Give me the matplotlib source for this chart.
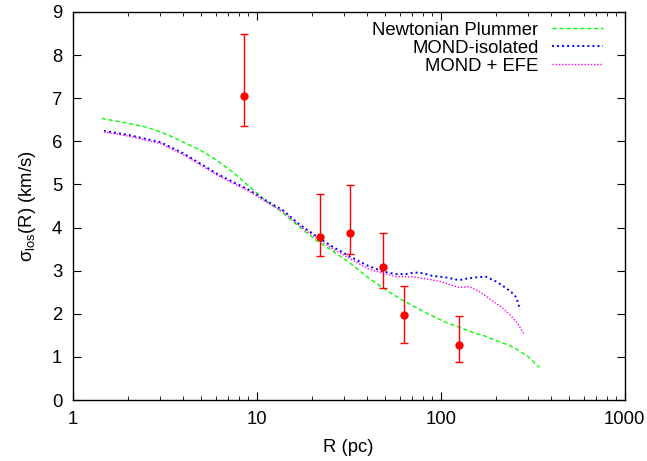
import numpy as np
import matplotlib
matplotlib.use("Agg")
import matplotlib.pyplot as plt
from matplotlib.ticker import LogLocator, NullFormatter, FixedLocator

# 数据点 (R, sigma, 误差)
obs_R = [8.5, 22.2, 32.1, 48.5, 63.0, 125.0]
obs_sig = [7.05, 3.78, 3.88, 3.09, 1.98, 1.28]
obs_lo = [6.35, 3.33, 3.39, 2.60, 1.32, 0.89]
obs_hi = [8.48, 4.78, 4.98, 3.88, 2.64, 1.96]

# Newtonian Plummer
newt_R = [1.44, 2.0, 2.5, 3.0, 3.54, 4.0, 5.0, 6.08, 7.5, 9.2, 11.0, 13.9, 17.0, 21.1, 26.0,
          32.1, 40.0, 48.5, 60.0, 76.9, 90.0, 107.0, 130.0, 149.0, 175.0, 200.0, 235.0,
          268.0, 300.0, 343.0]
newt_sig = [6.53, 6.42, 6.33, 6.22, 6.09, 5.98, 5.78, 5.56, 5.27, 4.94, 4.65, 4.34, 4.02, 3.70, 3.45,
            3.18, 2.85, 2.60, 2.35, 2.10, 1.95, 1.80, 1.67, 1.57, 1.48, 1.38, 1.27,
            1.14, 1.00, 0.76]

# MOND isolated
iso_R = [1.48, 2.0, 3.0, 4.0, 5.0, 6.08, 7.5, 9.2, 11.0, 13.9, 17.0, 21.1, 26.0, 32.1,
         40.0, 48.5, 57.0, 65.0, 72.0, 80.0, 90.0, 105.0, 126.0, 140.0, 160.0, 176.0,
         200.0, 226.0, 245.0, 258.0, 270.0]
iso_sig = [6.24, 6.15, 5.98, 5.72, 5.47, 5.25, 5.05, 4.86, 4.65, 4.40, 4.08, 3.80, 3.55, 3.33,
           3.12, 2.98, 2.92, 2.92, 2.96, 2.94, 2.88, 2.85, 2.78, 2.82, 2.85, 2.86,
           2.75, 2.60, 2.48, 2.38, 2.09]

# MOND + EFE
efe_R = [1.48, 2.0, 3.0, 4.0, 5.0, 6.08, 7.5, 9.2, 11.0, 13.9, 17.0, 21.1, 26.0, 32.1,
         40.0, 46.8, 57.4, 70.0, 83.5, 100.0, 115.0, 126.0, 143.0, 165.0, 191.0, 215.0,
         236.0, 260.0, 284.0]
efe_sig = [6.22, 6.12, 5.95, 5.69, 5.44, 5.22, 5.02, 4.83, 4.62, 4.37, 4.05, 3.76, 3.50, 3.28,
           3.05, 2.96, 2.86, 2.86, 2.81, 2.75, 2.66, 2.61, 2.63, 2.50, 2.30, 2.15,
           1.99, 1.80, 1.53]

plt.rcParams['font.family'] = ['Liberation Sans', 'DejaVu Sans']
plt.rcParams['mathtext.fontset'] = 'custom'
plt.rcParams['mathtext.rm'] = 'Liberation Sans'

fs = 13.3

fig = plt.figure(figsize=(6.47, 4.61), dpi=100)
ax = fig.add_axes([0.1123, 0.1323, 0.8532, 0.8417])

ax.plot(newt_R, newt_sig, color='#00ff00', lw=1.0, dashes=(3, 2), label='Newtonian Plummer')
ax.plot(iso_R, iso_sig, color='#0000ff', lw=1.4, dashes=(1, 1.6), label='MOND-isolated')
ax.plot(efe_R, efe_sig, color='#ff00ff', lw=1.0, dashes=(1, 1.3), label='MOND + EFE')

yerr = [np.array(obs_sig) - np.array(obs_lo), np.array(obs_hi) - np.array(obs_sig)]
ax.errorbar(obs_R, obs_sig, yerr=yerr, fmt='o', color='#ff0000', ms=5, lw=1.0,
            capsize=3, capthick=1.0)

ax.set_xscale('log')
ax.set_xlim(1, 1000)
ax.set_ylim(0, 9)
ax.xaxis.set_major_locator(FixedLocator([1, 10, 100, 1000]))
ax.set_xticklabels(['1', '10', '100', '1000'])
ax.xaxis.set_minor_locator(LogLocator(base=10, subs=np.arange(2, 10)))
ax.xaxis.set_minor_formatter(NullFormatter())
ax.set_yticks(range(0, 10))

ax.tick_params(which='both', direction='in', top=True, right=True, labelsize=fs)
ax.tick_params(axis='x', pad=8)
ax.tick_params(axis='y', pad=7.5)
ax.tick_params(which='major', length=6)
ax.tick_params(which='minor', length=3)
for s in ax.spines.values():
    s.set_linewidth(1.0)

ax.set_xlabel('R (pc)', fontsize=fs, labelpad=8)
ax.set_ylabel('σ$_{\\mathrm{los}}$(R) (km/s)', fontsize=fs, labelpad=10)

ax.legend(loc='upper right', frameon=False, markerfirst=False, fontsize=fs,
          handlelength=2.8, handletextpad=0.7, labelspacing=0.05,
          borderaxespad=0.4, bbox_to_anchor=(0.988, 1.013))

fig.savefig('out.png', dpi=100)
